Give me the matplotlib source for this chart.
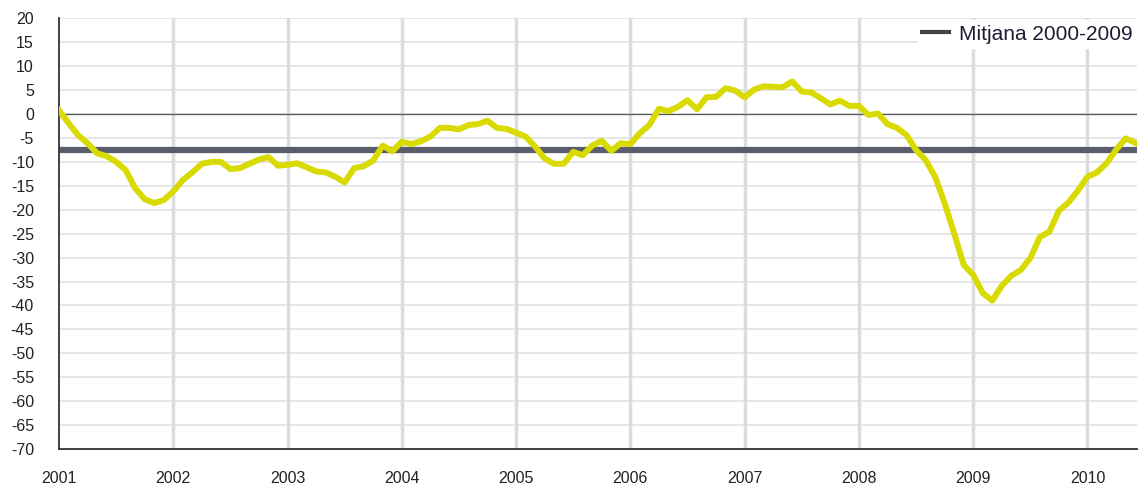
import numpy as np
import matplotlib
matplotlib.use('Agg')
import matplotlib.pyplot as plt
from matplotlib.lines import Line2D

plt.rcParams['font.family'] = ['Liberation Sans', 'DejaVu Sans']

# monthly values, Jan 2001 .. Jun 2010
values = [0.8, -1.9, -4.4, -6.1, -8.2, -8.8, -10.0, -11.7, -15.5, -17.8, -18.6, -18.0,
          -16.2, -13.8, -12.2, -10.4, -10.0, -10.0, -11.5, -11.3, -10.4, -9.5, -9.0, -10.8,
          -10.6, -10.3, -11.1, -12.0, -12.2, -13.1, -14.3, -11.3, -10.9, -9.7, -6.6, -7.8,
          -5.8, -6.3, -5.7, -4.7, -2.9, -2.9, -3.2, -2.3, -2.1, -1.4, -2.9, -3.1,
          -3.9, -4.7, -6.8, -9.3, -10.4, -10.4, -7.9, -8.6, -6.6, -5.6, -7.7, -6.1,
          -6.3, -4.0, -2.3, 1.1, 0.6, 1.5, 2.9, 1.0, 3.5, 3.6, 5.4, 4.9,
          3.5, 5.1, 5.8, 5.7, 5.6, 6.8, 4.7, 4.5, 3.3, 2.0, 2.8, 1.7,
          1.7, -0.2, 0.1, -2.1, -2.9, -4.4, -7.5, -9.6, -13.1, -18.6, -24.9, -31.5,
          -33.6, -37.4, -39.0, -35.9, -33.8, -32.6, -30.1, -25.7, -24.6, -20.2, -18.5, -16.0,
          -13.1, -12.2, -10.3, -7.5, -5.1, -6.0]
mean_value = -7.5
mean_label = 'Mitjana 2000-2009'
years = ['2001', '2002', '2003', '2004', '2005', '2006', '2007', '2008', '2009', '2010']
yticks = list(range(20, -75, -5))

months = np.arange(len(values))

fig = plt.figure(figsize=(11.38, 4.86), dpi=100)
ax = fig.add_axes([0.0518, 0.0761, 0.9473, 0.8862])

ax.set_xlim(0, 113.2)
ax.set_ylim(-70, 20)

# grid
for y in yticks:
    ax.axhline(y, color='#e2e2e2', lw=1.2, zorder=0)
for i in range(1, len(years)):
    ax.axvline(i * 12, color='#dcdcdc', lw=2.5, zorder=0)
ax.axhline(0, color='#555555', lw=0.9, zorder=1)

ax.axhline(mean_value, color='#5a5d6b', lw=4.5, zorder=2)
ax.plot(months, values, color='#d8da00', lw=4.3, solid_joinstyle='round', zorder=3)

ax.set_xticks([i * 12 for i in range(len(years))])
ax.set_xticklabels(years)
ax.set_yticks(yticks)
ax.set_yticklabels([str(v) for v in yticks])
ax.tick_params(axis='both', length=0, labelsize=11.5, colors='#222222')
ax.tick_params(axis='y', pad=18)
ax.tick_params(axis='x', pad=16)

for s in ['top', 'right']:
    ax.spines[s].set_visible(False)
for s in ['left', 'bottom']:
    ax.spines[s].set_color('#333333')
    ax.spines[s].set_linewidth(1.3)

handle = Line2D([0], [0], color='#444444', lw=3)
leg = ax.legend([handle], [mean_label], loc='upper right', bbox_to_anchor=(1.0, 0.995),
                frameon=True, fontsize=15, handlelength=1.3, handletextpad=0.5,
                borderpad=0.2, borderaxespad=0)
leg.get_frame().set_facecolor('white')
leg.get_frame().set_edgecolor('white')
leg.get_frame().set_alpha(1)
leg.get_frame().set_boxstyle('square', pad=0)
for t in leg.get_texts():
    t.set_color('#1c1c33')
leg.set_zorder(5)

fig.savefig('out.png', dpi=100)
